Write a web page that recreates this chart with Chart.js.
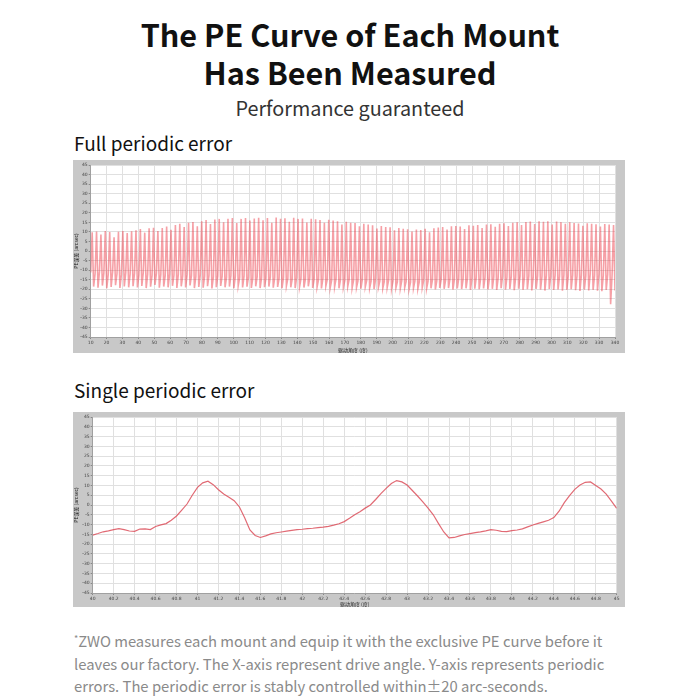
<!DOCTYPE html>
<html>
<head>
<meta charset="utf-8">
<script src="https://cdn.jsdelivr.net/npm/chart.js@4.4.0/dist/chart.umd.min.js"></script>
<style>
  body { margin: 0; background: #fff; font-family: "Noto Sans CJK SC", "Noto Sans", sans-serif; }
  #page { position: relative; width: 700px; height: 700px; overflow: hidden; }
  .t { position: absolute; white-space: nowrap; }
  .title { left: 0; width: 700px; text-align: center; font-weight: 700; font-size: 30.6px; line-height: 38px; color: #111; }
  .sub { left: 0; width: 700px; text-align: center; font-size: 19.8px; line-height: 26px; color: #333; }
  .head { left: 74px; font-size: 19px; line-height: 24px; color: #111; }
  .foot { left: 74px; font-size: 14.8px; line-height: 22.5px; color: #8a8a8a; }
  .foot sup { font-size: 9px; vertical-align: 5px; }
  .panel { position: absolute; left: 73px; width: 552px; background: #c8c8c8; }
</style>
</head>
<body>
<div id="page">
  <div class="t title" style="top:15px">The PE Curve of Each Mount</div>
  <div class="t title" style="top:53px">Has Been Measured</div>
  <div class="t sub" style="top:95px">Performance guaranteed</div>
  <div class="t head" style="top:131px">Full periodic error</div>
  <div class="panel" style="top:160px;height:193px"><canvas id="fullChart" width="552" height="193"></canvas></div>
  <div class="t head" style="top:378px">Single periodic error</div>
  <div class="panel" style="top:412px;height:195px"><canvas id="singleChart" width="552" height="195"></canvas></div>
  <div class="t foot" style="top:628px"><sup>*</sup>ZWO measures each mount and equip it with the exclusive PE curve before it<br>leaves our factory. The X-axis represent drive angle. Y-axis represents periodic<br>errors. The periodic error is stably controlled within±20 arc-seconds.</div>
</div>

<script>
// Full periodic error: one worm cycle = flat part, peak, trough (arc-seconds)
const fullStart = 10;
const fullEnd = 340;

const fullPeaks = [
  9.8, 10.2, 8.6, 10.4, 9.9, 7.2, 10.1, 10.5, 9.4, 10.3,
  10.8, 11.5, 9.6, 11.9, 12.2, 10.4, 12.0, 12.8, 11.1, 13.6,
  14.2, 12.5, 14.8, 15.1, 13.0, 15.6, 16.2, 14.1, 16.5, 16.8,
  15.0, 16.9, 17.2, 14.6, 16.8, 17.3, 15.9, 17.0, 17.4, 16.1,
  17.2, 14.8, 17.5, 16.9, 17.1, 15.3, 17.4, 16.8, 17.0, 14.9,
  16.9, 16.6, 16.2, 14.8, 16.4, 15.9, 15.6, 13.9, 15.3, 14.8,
  14.6, 12.9, 14.2, 13.8, 13.5, 11.8, 13.1, 12.6, 12.4, 10.9,
  12.0, 11.6, 11.4, 10.2, 11.3, 11.0, 11.6, 9.8, 11.9, 12.3,
  12.6, 11.2, 12.9, 13.1, 12.8, 11.5, 13.4, 13.2, 13.6, 12.0,
  13.8, 14.0, 12.7, 14.3, 14.5, 13.1, 14.8, 15.0, 13.6, 15.2,
  15.4, 14.1, 15.5, 15.3, 15.6, 13.9, 15.4, 15.1, 14.2, 15.0,
  14.7, 14.4, 13.2, 14.5, 14.2, 14.0, 12.8, 14.1, 13.9, 13.6
];

const fullFlats = [
  -11.2, -12.0, -10.8, -11.6, -12.3, -11.0, -11.9, -12.5, -11.3, -12.1,
  -11.7, -12.6, -11.4, -12.2, -12.9, -11.8, -12.4, -13.0, -12.1, -12.7,
  -12.3, -13.1, -12.5, -12.9, -13.4, -12.6, -13.2, -12.8, -13.5, -13.0,
  -13.3, -13.8, -12.9, -13.6, -14.0, -13.2, -13.7, -14.1, -13.4, -13.9,
  -14.2, -13.6, -14.0, -14.4, -13.8, -14.3, -14.6, -13.9, -14.5, -14.8,
  -14.1, -14.7, -15.0, -14.4, -14.9, -15.2, -14.6, -15.1, -15.4, -14.8,
  -15.3, -15.6, -14.9, -15.4, -15.8, -15.1, -15.6, -16.0, -15.3, -15.7,
  -16.1, -15.5, -15.9, -16.3, -15.6, -16.0, -15.4, -15.8, -15.1, -15.5,
  -14.9, -15.3, -14.6, -15.0, -14.4, -14.8, -14.2, -14.7, -14.0, -14.5,
  -13.9, -14.3, -13.6, -14.1, -13.5, -13.9, -13.3, -13.8, -13.2, -13.6,
  -13.1, -13.7, -13.0, -13.5, -12.9, -13.4, -12.8, -13.3, -12.7, -13.2,
  -12.6, -13.1, -12.5, -13.0, -12.4, -12.9, -12.3, -12.8, -12.2, -12.7
];

const fullTroughs = [
  -18.6, -19.2, -18.1, -19.5, -18.8, -17.9, -19.3, -18.5, -19.0, -18.4,
  -19.1, -18.3, -19.4, -18.7, -17.8, -19.2, -18.6, -19.0, -18.2, -19.3,
  -18.5, -19.1, -18.0, -19.4, -18.8, -19.2, -18.4, -19.6, -18.9, -18.3,
  -19.0, -18.6, -19.5, -18.2, -19.1, -18.7, -19.3, -18.5, -19.4, -18.9,
  -18.6, -19.2, -18.8, -19.5, -18.3, -19.0, -19.4, -18.7, -19.1, -18.5,
  -19.3, -18.9, -19.6, -18.4, -19.2, -18.8, -19.5, -19.0, -18.6, -19.4,
  -19.1, -19.7, -18.8, -19.4, -19.9, -19.0, -19.5, -19.2, -19.8, -19.3,
  -19.6, -19.1, -20.0, -19.4, -19.8, -19.2, -19.7, -19.5, -20.1, -19.3,
  -19.8, -19.4, -20.2, -19.6, -19.9, -19.5, -20.3, -19.7, -20.0, -19.6,
  -20.1, -19.8, -20.4, -19.5, -20.2, -19.9, -20.5, -19.7, -20.3, -20.0,
  -20.6, -19.8, -20.2, -20.7, -19.9, -20.4, -20.1, -20.8, -20.3, -20.0,
  -20.5, -20.9, -20.2, -20.6, -20.3, -20.8, -21.0, -20.4, -27.8, -20.7
];

// Single periodic error, sampled every 0.05 degree from 40 to 45
const singleStart = 40;
const singleStep = 0.05;
const singleValues = [
  -15.4, -14.6, -13.7, -13.2, -12.6, -12.1, -12.6, -13.3, -13.5, -12.3,
  -12.2, -12.6, -11.0, -10.2, -9.5, -7.8, -5.6, -2.6, 0.5, 5.0,
  9.0, 11.3, 12.2, 10.4, 7.8, 5.6, 4.0, 2.2, -1.0, -6.5,
  -12.8, -15.6, -16.6, -15.8, -14.8, -14.2, -13.8, -13.4, -13.0, -12.6,
  -12.4, -12.1, -11.9, -11.6, -11.3, -10.9, -10.3, -9.6, -8.5, -6.8,
  -5.0, -3.4, -1.6, 0.0, 2.8, 5.8, 8.5, 11.0, 12.5, 11.8,
  10.2, 7.4, 4.6, 1.6, -1.6, -5.0, -9.5, -13.8, -16.8, -16.6,
  -15.8, -15.1, -14.6, -14.1, -13.7, -13.2, -12.6, -12.9, -13.5, -13.6,
  -13.1, -12.8, -12.2, -11.2, -10.2, -9.4, -8.6, -7.8, -6.4, -3.2,
  1.2, 4.8, 8.0, 10.2, 11.6, 11.8, 10.0, 8.2, 5.6, 2.0,
  -1.7
];

const yMin = -45, yMax = 45, yStep = 5;
const fullTickStep = 10;
const singleMin = 40, singleMax = 45, singleTickStep = 0.2;
const yTitle = "PE误差 (arcsec)";
const xTitle = "驱动角度 (度)";

// build {x, y} table for the full curve
const fullSeq = [];
for (let i = 0; i < fullPeaks.length; i++) {
  fullSeq.push(fullFlats[i], fullPeaks[i], fullTroughs[i]);
}
const fullData = fullSeq.map((v, k) => ({
  x: fullStart + (k * (fullEnd - fullStart)) / (fullSeq.length - 1),
  y: v,
}));
const singleData = singleValues.map((v, k) => ({
  x: singleStart + k * singleStep,
  y: v,
}));

const plotBg = {
  id: "plotBg",
  beforeDraw(chart) {
    const { ctx, chartArea: a } = chart;
    ctx.save();
    ctx.fillStyle = "#ffffff";
    ctx.fillRect(a.left, a.top, a.right - a.left, a.bottom - a.top);
    ctx.restore();
  },
};

const tickFont = { size: 4.5, family: "DejaVu Sans" };
const titleFont = { size: 5, family: "Noto Sans CJK SC" };

function makeOptions(xMin, xMax, xStep, leftW, bottomH, pad, fmt) {
  return {
    responsive: false,
    animation: false,
    devicePixelRatio: 1,
    layout: { padding: pad },
    plugins: { legend: { display: false }, tooltip: { enabled: false } },
    scales: {
      x: {
        type: "linear",
        min: xMin,
        max: xMax,
        afterFit: (s) => { s.height = bottomH; },
        afterBuildTicks: (s) => {
          const t = [];
          const n = Math.round((xMax - xMin) / xStep);
          for (let i = 0; i <= n; i++) t.push({ value: xMin + i * xStep });
          s.ticks = t;
        },
        ticks: {
          autoSkip: false,
          maxRotation: 0,
          padding: 1,
          font: tickFont,
          color: "#444",
          callback: fmt,
        },
        grid: { color: "#e0e0e0", lineWidth: 1, tickLength: 2, tickColor: "#888" },
        border: { color: "#a0a0a0" },
        title: { display: true, text: xTitle, font: titleFont, color: "#222", padding: 0 },
      },
      y: {
        min: yMin,
        max: yMax,
        afterFit: (s) => { s.width = leftW; },
        ticks: { stepSize: yStep, padding: 1, font: tickFont, color: "#444" },
        grid: { color: "#e0e0e0", lineWidth: 1, tickLength: 2, tickColor: "#888" },
        border: { color: "#a0a0a0" },
        title: { display: true, text: yTitle, font: titleFont, color: "#222", padding: 0 },
      },
    },
  };
}

new Chart(document.getElementById("fullChart"), {
  type: "line",
  data: {
    datasets: [{
      data: fullData,
      borderColor: "rgba(234, 44, 58, 0.45)",
      borderWidth: 1.6,
      pointRadius: 0,
      tension: 0,
    }],
  },
  options: makeOptions(fullStart, fullEnd, fullTickStep, 17.7, 16,
    { left: 0, right: 10, top: 5, bottom: 0 }, (v) => String(v)),
  plugins: [plotBg],
});

new Chart(document.getElementById("singleChart"), {
  type: "line",
  data: {
    datasets: [{
      data: singleData,
      borderColor: "rgba(220, 80, 92, 0.85)",
      borderWidth: 1.2,
      pointRadius: 0,
      tension: 0,
    }],
  },
  options: makeOptions(singleMin, singleMax, singleTickStep, 19.7, 14,
    { left: 0, right: 8.3, top: 5, bottom: 0 }, (v) => String(Number(v.toFixed(1)))),
  plugins: [plotBg],
});
</script>
</body>
</html>
